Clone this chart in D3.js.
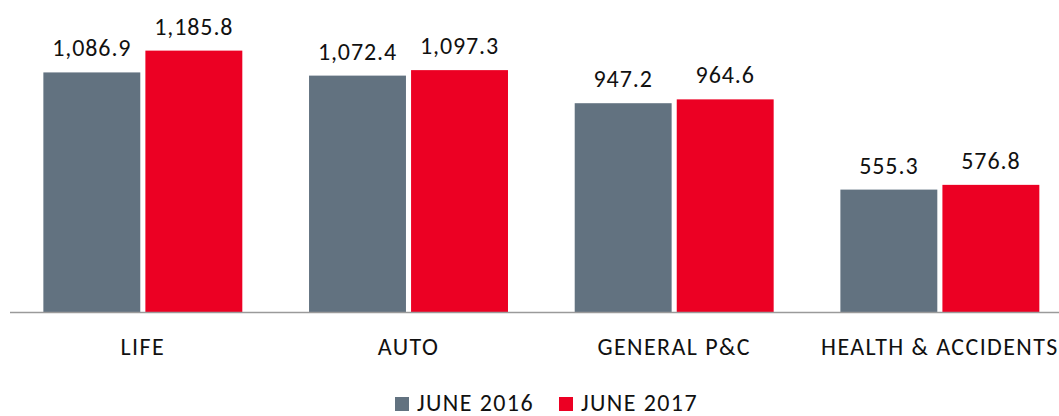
<!DOCTYPE html>
<html>
<head>
  <meta charset="utf-8">
  <script src="https://cdn.jsdelivr.net/npm/d3@7"></script>
  <style>
    body { margin: 0; background: #fff; }
    text { font-family: Calibri, Carlito, Lato, sans-serif; fill: #111; }
    .cat, .legend text { letter-spacing: 1.4px; }
    .val { letter-spacing: 0.9px; }
  </style>
</head>
<body>
<script>
  // chart data
  var categories = ["LIFE", "AUTO", "GENERAL P&C", "HEALTH & ACCIDENTS"];
  var seriesNames = ["JUNE 2016", "JUNE 2017"];
  var june2016 = [1086.9, 1072.4, 947.2, 555.3];
  var june2017 = [1185.8, 1097.3, 964.6, 576.8];
  var colors = ["#627280", "#EC0023"];

  var width = 1059, height = 416;
  var baseY = 312;

  var data = categories.map(function(c, i) {
    return { cat: c, values: [june2016[i], june2017[i]] };
  });

  var svg = d3.select("body").append("svg")
      .attr("width", width)
      .attr("height", height);

  // category scale runs a bit past the right edge, like the cropped original
  var x0 = d3.scaleBand()
      .domain(categories)
      .range([10, 1072.7]);

  var x1 = d3.scaleBand()
      .domain(seriesNames)
      .range([0, x0.bandwidth()])
      .paddingInner(0.05)
      .paddingOuter(0.327);

  var y = d3.scaleLinear()
      .domain([0, 1400])
      .range([baseY, 3.4]);

  var fmt = d3.format(",.1f");

  var groups = svg.selectAll("g.grp")
      .data(data)
    .enter().append("g")
      .attr("class", "grp")
      .attr("transform", function(d) { return "translate(" + x0(d.cat) + ",0)"; });

  groups.selectAll("rect")
      .data(function(d) { return d.values.map(function(v, j) { return { s: seriesNames[j], v: v, j: j }; }); })
    .enter().append("rect")
      .attr("x", function(d) { return x1(d.s); })
      .attr("y", function(d) { return y(d.v); })
      .attr("width", x1.bandwidth())
      .attr("height", function(d) { return baseY - y(d.v); })
      .attr("fill", function(d) { return colors[d.j]; });

  groups.selectAll("text.val")
      .data(function(d) { return d.values.map(function(v, j) { return { s: seriesNames[j], v: v }; }); })
    .enter().append("text")
      .attr("class", "val")
      .attr("x", function(d) { return x1(d.s) + x1.bandwidth() / 2; })
      .attr("y", function(d) { return y(d.v) - 16; })
      .attr("text-anchor", "middle")
      .style("font-size", "24px")
      .text(function(d) { return fmt(d.v); });

  // baseline
  svg.append("line")
      .attr("x1", 10).attr("x2", width)
      .attr("y1", baseY + 0.5).attr("y2", baseY + 0.5)
      .attr("stroke", "#9a9a9a")
      .attr("stroke-width", 1.5);

  // category labels
  svg.selectAll("text.cat")
      .data(categories)
    .enter().append("text")
      .attr("class", "cat")
      .attr("x", function(d) { return x0(d) + x0.bandwidth() / 2; })
      .attr("y", 355)
      .attr("text-anchor", "middle")
      .style("font-size", "24px")
      .text(function(d) { return d; });

  // legend
  var legendX = [395, 559];
  var legend = svg.selectAll("g.legend")
      .data(seriesNames)
    .enter().append("g")
      .attr("class", "legend")
      .attr("transform", function(d, i) { return "translate(" + legendX[i] + ",397)"; });

  legend.append("rect")
      .attr("width", 14).attr("height", 14)
      .attr("fill", function(d, i) { return colors[i]; });

  legend.append("text")
      .attr("x", 22).attr("y", 14)
      .style("font-size", "24px")
      .text(function(d) { return d; });
</script>
</body>
</html>
